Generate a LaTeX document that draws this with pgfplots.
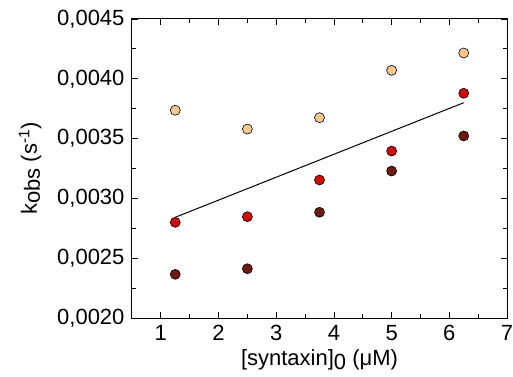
\documentclass[border=0pt]{standalone}
\usepackage{pgfplots}
\pgfplotsset{compat=1.18}
\usepackage{fontspec}
\setmainfont{Liberation Sans}
\definecolor{peach}{HTML}{F7C990}
\definecolor{cred}{HTML}{CC0A0A}
\definecolor{cdark}{HTML}{6B1A14}
\begin{document}
\fontsize{22bp}{26bp}\selectfont
\begin{tikzpicture}
\begin{axis}[
  width=375bp, height=299bp, scale only axis,
  xmin=0.5, xmax=7, ymin=0.002, ymax=0.0045,
  xtick={1,2,3,4,5,6,7},
  ytick={0.0020,0.0025,0.0030,0.0035,0.0040,0.0045},
  minor x tick num=1, minor y tick num=1,
  tick align=inside,
  major tick length=6bp, minor tick length=4bp,
  every tick/.style={black, line width=0.8bp},
  axis line style={black, line width=1bp},
  scaled y ticks=false,
  /pgf/number format/assume math mode=true,
  yticklabel style={/pgf/number format/.cd, use comma, fixed, fixed zerofill, precision=4, 1000 sep={}},
  ticklabel style={font=\fontsize{22bp}{26bp}\selectfont},
  label style={font=\fontsize{22bp}{26bp}\selectfont},
  xlabel={[syntaxin]\raisebox{-4bp}{0} (μM)},
  ylabel={k\raisebox{-3bp}{obs} (s\textsuperscript{-1})},
  xlabel style={yshift=6bp},
  ylabel style={yshift=1bp},
  mark options={solid, draw=black, line width=0.6bp},
]
\addplot[black, line width=1bp] coordinates {(1.25,0.002842) (6.25,0.0038)};
\addplot[only marks, mark=*, mark size=5bp, fill=peach] coordinates {
(1.25,0.003737) (2.5,0.00358) (3.75,0.003675) (5,0.004071) (6.25,0.004216)};
\addplot[only marks, mark=*, mark size=5bp, fill=cred] coordinates {
(1.25,0.0028) (2.5,0.002847) (3.75,0.003154) (5,0.003396) (6.25,0.003879)};
\addplot[only marks, mark=*, mark size=5bp, fill=cdark] coordinates {
(1.25,0.002365) (2.5,0.002412) (3.75,0.002884) (5,0.003229) (6.25,0.003522)};
\end{axis}
\pgfresetboundingbox
\path ([shift={(-132bp,-59bp)}]current axis.south west) rectangle ([shift={(6bp,19bp)}]current axis.north east);
\end{tikzpicture}
\end{document}
